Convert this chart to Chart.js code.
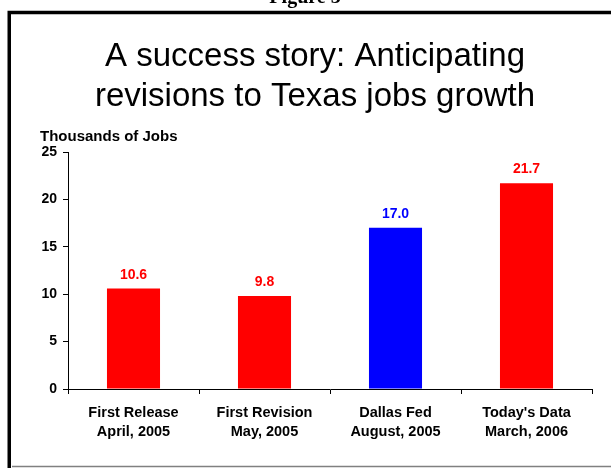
<!DOCTYPE html>
<html>
<head>
<meta charset="utf-8">
<script src="https://cdn.jsdelivr.net/npm/chart.js@4.4.1/dist/chart.umd.min.js"></script>
<style>
  html, body { margin: 0; padding: 0; background: #fff; }
  #wrap { width: 611px; height: 468px; }
</style>
</head>
<body>
<div id="wrap"><canvas id="barchart" width="611" height="468"></canvas></div>
<script>
var categories = [
    ['First Release', 'April, 2005'],
    ['First Revision', 'May, 2005'],
    ['Dallas Fed', 'August, 2005'],
    ["Today's Data", 'March, 2006']
];
var jobs = [10.6, 9.8, 17.0, 21.7];
var barColors = ['#ff0000', '#ff0000', '#0000ff', '#ff0000'];
var titleLines = ['A success story: Anticipating', 'revisions to Texas jobs growth'];
var yLabel = 'Thousands of Jobs';
var figureLabel = 'Figure 3';

// frame, headings and the numbers above the bars
var extras = {
    id: 'extras',
    afterDraw: function (chart) {
        var c = chart.ctx;
        c.save();
        // box round the slide
        c.strokeStyle = '#000';
        c.lineWidth = 3.5;
        c.beginPath();
        c.moveTo(9.25, 468);
        c.lineTo(9.25, 12.5);
        c.lineTo(611, 12.5);
        c.stroke();
        c.strokeStyle = '#808080';
        c.lineWidth = 1.5;
        c.beginPath();
        c.moveTo(12, 466.5);
        c.lineTo(611, 466.5);
        c.stroke();

        c.fillStyle = '#000';
        c.textAlign = 'center';
        c.textBaseline = 'alphabetic';
        c.font = 'bold 20px "Liberation Serif"';
        c.fillText(figureLabel, 305, 3);

        c.font = '33px "Liberation Sans"';
        c.fillText(titleLines[0], 315, 66);
        c.fillText(titleLines[1], 315, 106);

        c.textAlign = 'left';
        c.font = 'bold 15px "Liberation Sans"';
        c.fillText(yLabel, 40, 141);

        // value labels
        c.textAlign = 'center';
        c.font = 'bold 14px "Liberation Sans"';
        var meta = chart.getDatasetMeta(0);
        meta.data.forEach(function (bar, i) {
            c.fillStyle = barColors[i];
            c.fillText(jobs[i].toFixed(1), bar.x, bar.y - 10);
        });
        c.restore();
    }
};

var crt = document.getElementById('barchart').getContext('2d');
new Chart(crt, {
    type: 'bar',
    data: {
        labels: categories,
        datasets: [{
            data: jobs,
            backgroundColor: barColors,
            borderWidth: 0,
            barPercentage: 0.405,
            categoryPercentage: 1
        }]
    },
    options: {
        responsive: false,
        animation: false,
        layout: { padding: { top: 152, right: 19, bottom: 0, left: 0 } },
        plugins: {
            legend: { display: false },
            title: { display: false },
            tooltip: { enabled: false }
        },
        scales: {
            x: {
                afterFit: function (scale) { scale.height = 79; },
                grid: { drawOnChartArea: false, tickLength: 5, color: '#000', offset: true },
                border: { color: '#000', width: 1 },
                ticks: {
                    color: '#000',
                    padding: 10,
                    maxRotation: 0,
                    font: { family: 'Liberation Sans', size: 14.5, weight: 'bold', lineHeight: 1.31 }
                }
            },
            y: {
                min: 0,
                max: 25,
                afterFit: function (scale) { scale.width = 68; },
                grid: { drawOnChartArea: false, tickLength: 5, color: '#000' },
                border: { color: '#000', width: 1 },
                ticks: {
                    stepSize: 5,
                    color: '#000',
                    padding: 6,
                    font: { family: 'Liberation Sans', size: 14, weight: 'bold' }
                }
            }
        }
    },
    plugins: [extras]
});
</script>
</body>
</html>
